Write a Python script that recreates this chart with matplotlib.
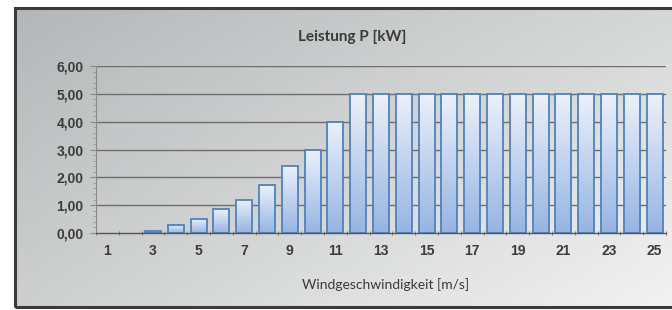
import numpy as np
import matplotlib
matplotlib.use("Agg")
import matplotlib.pyplot as plt
from matplotlib.patches import Rectangle
from matplotlib.ticker import MultipleLocator, FixedLocator

# ---- data ----
wind_speed = list(range(1, 26))
power_kw = [0.0, 0.0, 0.08, 0.30, 0.52, 0.85, 1.20, 1.71, 2.42, 3.00, 4.00,
            5.00, 5.00, 5.00, 5.00, 4.98, 4.98, 4.98, 4.98, 4.98, 4.98, 4.98, 4.98, 4.98, 4.98]
title = "Leistung P [kW]"
xlabel = "Windgeschwindigkeit [m/s]"
y_ticks = [0, 1, 2, 3, 4, 5, 6]
y_ticklabels = ["0,00", "1,00", "2,00", "3,00", "4,00", "5,00", "6,00"]
x_ticks = list(range(1, 26, 2))

W, H = 672, 310
fig = plt.figure(figsize=(W / 100, H / 100), dpi=100)
fig.patch.set_facecolor("white")

# ---- framed gradient background ----
bg = fig.add_axes([15 / W, 1 - 307 / H, (W - 15 + 5) / W, (307 - 8) / H])
bg.set_axis_off()
yy, xx = np.mgrid[0:1:200j, 0:1:400j]  # yy: 0 bottom -> 1 top
tl = np.array([180, 183, 185]) / 255
tr = np.array([214, 216, 216]) / 255
bl = np.array([205, 207, 207]) / 255
br = np.array([242, 242, 242]) / 255
img = (tl[None, None] * ((1 - xx) * yy)[..., None] + tr[None, None] * (xx * yy)[..., None]
       + bl[None, None] * ((1 - xx) * (1 - yy))[..., None] + br[None, None] * (xx * (1 - yy))[..., None])
bg.imshow(img, origin="lower", extent=[0, 1, 0, 1], aspect="auto")
bg.set_xlim(0, 1)
bg.set_ylim(0, 1)
bg.add_patch(Rectangle((0, 0), 1, 1, transform=bg.transAxes, fill=False,
                       edgecolor="#3a3a3a", linewidth=2.2, clip_on=False))

# ---- main axes ----
ax = fig.add_axes([96 / W, 1 - 233 / H, (666 - 96) / W, (233 - 66) / H])
ax.patch.set_alpha(0)

for yv in y_ticks[1:]:
    ax.axhline(yv, color="#6e6e6e", linewidth=1.0, zorder=1)

edge_colors = ["#4f82bd" if v > 0 else "none" for v in power_kw]
bars = ax.bar(wind_speed, power_kw, width=0.7, facecolor="none",
              edgecolor=edge_colors, linewidth=1.3, zorder=3)

grad = np.linspace(0, 1, 100)[:, None]
top_c = np.array([236, 241, 250]) / 255
bot_c = np.array([150, 180, 226]) / 255
gimg = top_c[None, None, :] * (1 - grad[..., None]) + bot_c[None, None, :] * grad[..., None]
gimg = np.repeat(gimg, 2, axis=1)
for b in bars:
    h = b.get_height()
    if h <= 0:
        continue
    x0 = b.get_x()
    im = ax.imshow(gimg, extent=[x0, x0 + b.get_width(), 0, h], aspect="auto",
                   origin="upper", zorder=2)
    im.set_clip_path(b)
ax.set_xlim(0.5, 25.5)
ax.set_ylim(0, 6)

for s in ["top", "right"]:
    ax.spines[s].set_visible(False)
ax.spines["left"].set_color("#8a8a8a")
ax.spines["bottom"].set_color("#555555")
ax.spines["bottom"].set_linewidth(1.0)
ax.spines["left"].set_zorder(4)
ax.spines["bottom"].set_zorder(4)

ax.set_yticks(y_ticks)
ax.set_yticklabels(y_ticklabels)
ax.yaxis.set_minor_locator(MultipleLocator(0.2))
ax.tick_params(axis="y", which="major", length=4, color="#8a8a8a", pad=5)
ax.tick_params(axis="y", which="minor", length=2, color="#9a9a9a")

ax.set_xticks(x_ticks)
ax.set_xticklabels([str(v) for v in x_ticks])
ax.xaxis.set_minor_locator(FixedLocator([v + 0.5 for v in range(0, 26)]))
ax.tick_params(axis="x", which="major", length=0, pad=8)
ax.tick_params(axis="x", which="minor", length=3, color="#7a6a5a", direction="inout")

for lab in ax.get_xticklabels() + ax.get_yticklabels():
    lab.set_fontfamily("Liberation Sans")
    lab.set_fontweight("bold")
    lab.set_fontsize(10)
    lab.set_color("#3c3c3c")

fig.text(352 / W, 1 - 37 / H, title, ha="center", va="center",
         fontsize=11, fontweight="bold", family="Lato", color="#3a3a3a")
fig.text(386 / W, 1 - 285 / H, xlabel, ha="center", va="center",
         fontsize=10, family="Lato", color="#3a3a3a")

fig.savefig("out.png", dpi=100, facecolor="white")
